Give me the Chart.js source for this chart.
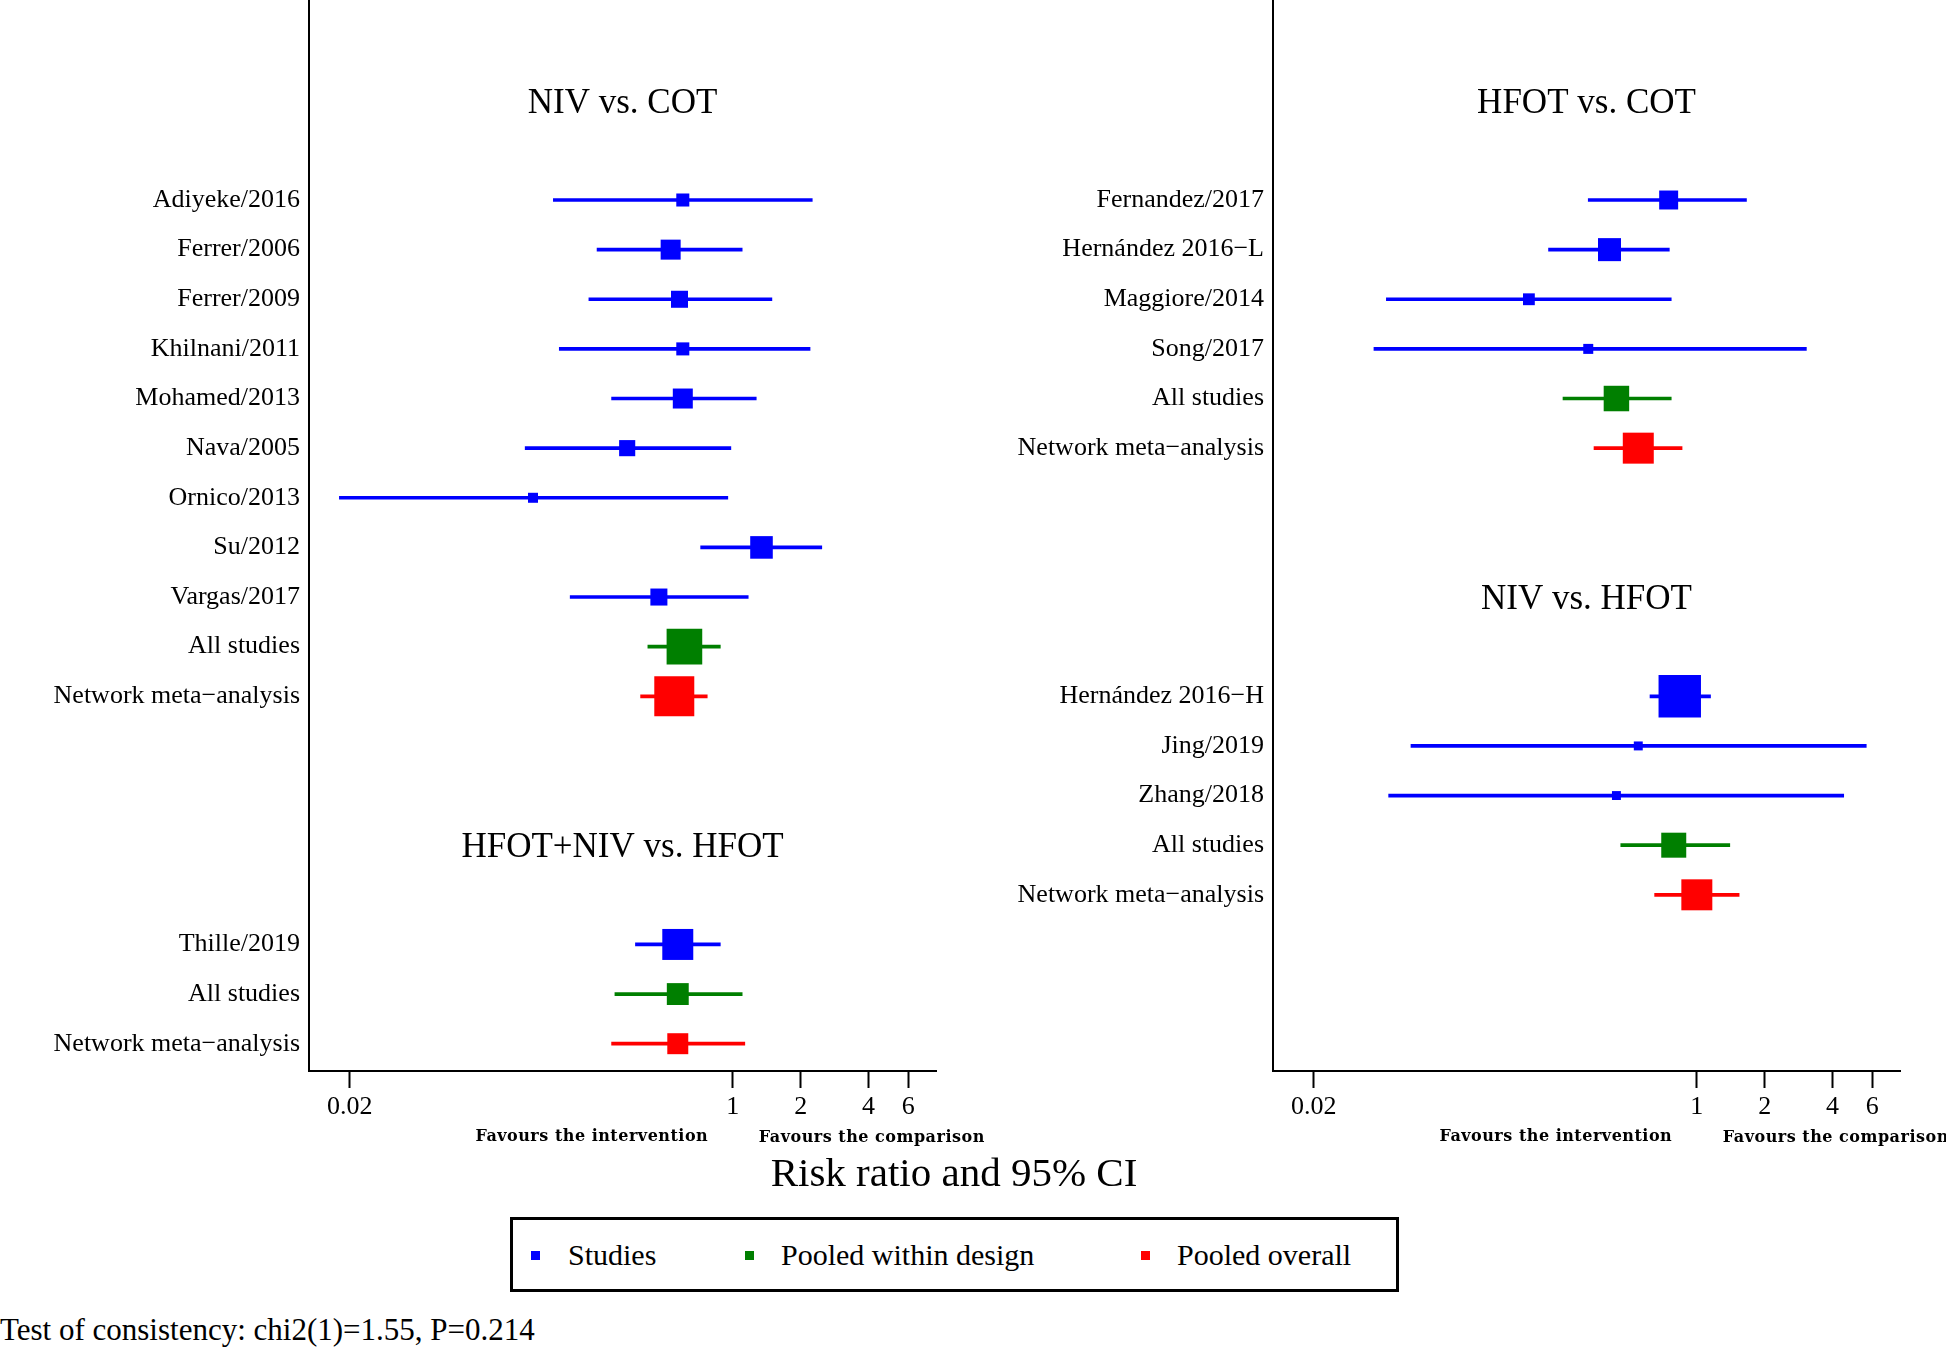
<!DOCTYPE html>
<html>
<head>
<meta charset="utf-8">
<script src="https://cdn.jsdelivr.net/npm/chart.js@4.4.0/dist/chart.umd.min.js"></script>
<style>
  body { margin: 0; background: #fff; width: 1946px; height: 1348px; position: relative; overflow: hidden; font-family: "Liberation Serif", "Times New Roman", serif; color: #000; }
  canvas { position: absolute; top: 0; }
  #leftChart { left: 0; }
  #rightChart { left: 964px; }
  #xTitle { position: absolute; left: 754px; width: 400px; top: 1150px; height: 44px; line-height: 44px; text-align: center; font-size: 41px; }
  #legend { position: absolute; left: 510px; top: 1217px; width: 889px; height: 75px; border: 3px solid #000; box-sizing: border-box; }
  .item { position: absolute; top: 0; height: 69px; line-height: 69px; font-size: 30px; white-space: nowrap; }
  .sw { position: absolute; width: 9px; height: 9px; top: 31px; }
  #note { position: absolute; left: 0; top: 1312px; font-size: 31px; line-height: 36px; white-space: nowrap; }
</style>
</head>
<body>
<canvas id="leftChart" width="1000" height="1160"></canvas>
<canvas id="rightChart" width="982" height="1160"></canvas>
<div id="xTitle">Risk ratio and 95% CI</div>
<div id="legend">
  <div class="sw" style="left:18px;background:#0000ff"></div><div class="item" style="left:55px">Studies</div>
  <div class="sw" style="left:232px;background:#007f00"></div><div class="item" style="left:268px">Pooled within design</div>
  <div class="sw" style="left:628px;background:#ff0000"></div><div class="item" style="left:664px">Pooled overall</div>
</div>
<div id="note">Test of consistency: chi2(1)=1.55, P=0.214</div>

<script>
// ---- data (risk ratio, 95% CI, box weight) ----
var nivCotStudies = ['Adiyeke/2016', 'Ferrer/2006', 'Ferrer/2009', 'Khilnani/2011', 'Mohamed/2013', 'Nava/2005', 'Ornico/2013', 'Su/2012', 'Vargas/2017', 'All studies', 'Network meta\u2212analysis'];
var nivCotRR     = [0.60, 0.53, 0.58, 0.60, 0.60, 0.34, 0.13, 1.34, 0.47, 0.61, 0.55];
var nivCotLow    = [0.16, 0.25, 0.23, 0.17, 0.29, 0.12, 0.018, 0.72, 0.19, 0.42, 0.39];
var nivCotHigh   = [2.25, 1.10, 1.49, 2.20, 1.27, 0.98, 0.95, 2.48, 1.17, 0.88, 0.77];
var nivCotWeight = [1.7, 4.0, 2.9, 1.7, 4.0, 2.6, 1.0, 5.1, 2.9, 12.7, 16.0];
var nivCotKind   = ['study', 'study', 'study', 'study', 'study', 'study', 'study', 'study', 'study', 'design', 'overall'];

var hfotNivStudies = ['Thille/2019', 'All studies', 'Network meta\u2212analysis'];
var hfotNivRR      = [0.57, 0.57, 0.57];
var hfotNivLow     = [0.37, 0.30, 0.29];
var hfotNivHigh    = [0.88, 1.10, 1.13];
var hfotNivWeight  = [9.6, 4.8, 4.4];
var hfotNivKind    = ['study', 'design', 'overall'];

var hfotCotStudies = ['Fernandez/2017', 'Hern\u00e1ndez 2016\u2212L', 'Maggiore/2014', 'Song/2017', 'All studies', 'Network meta\u2212analysis'];
var hfotCotRR      = [0.75, 0.41, 0.18, 0.33, 0.44, 0.55];
var hfotCotLow     = [0.33, 0.22, 0.042, 0.037, 0.255, 0.35];
var hfotCotHigh    = [1.66, 0.755, 0.77, 3.06, 0.77, 0.86];
var hfotCotWeight  = [3.6, 5.3, 1.4, 1.0, 6.5, 9.6];
var hfotCotKind    = ['study', 'study', 'study', 'study', 'design', 'overall'];

var nivHfotStudies = ['Hern\u00e1ndez 2016\u2212H', 'Jing/2019', 'Zhang/2018', 'All studies', 'Network meta\u2212analysis'];
var nivHfotRR      = [0.84, 0.55, 0.44, 0.79, 1.00];
var nivHfotLow     = [0.62, 0.054, 0.043, 0.46, 0.65];
var nivHfotHigh    = [1.15, 5.64, 4.48, 1.40, 1.54];
var nivHfotWeight  = [18.0, 0.8, 0.8, 6.25, 9.6];
var nivHfotKind    = ['study', 'study', 'study', 'design', 'overall'];

var xTicks = [0.02, 1, 2, 4, 6];

var kindColor = { study: '#0000ff', design: '#007f00', overall: '#ff0000' };
var serif = '"Liberation Serif", "Times New Roman", serif';

// a panel is a list of sections stacked down one row axis
function buildPanel(sections) {
  var rowLabels = {};
  var titles = [];
  var ci = { study: [], design: [], overall: [] };
  var pts = { study: [], design: [], overall: [] };
  var rad = { study: [], design: [], overall: [] };
  sections.forEach(function(sec) {
    titles.push({ text: sec.title, row: sec.first - 2 });
    sec.names.forEach(function(name, i) {
      var row = sec.first + i;
      var k = sec.kind[i];
      rowLabels[row] = name;
      ci[k].push({ x: [sec.low[i], sec.high[i]], y: row });
      pts[k].push({ x: sec.rr[i], y: row });
      // square side ~ 10*sqrt(weight); rect point side = radius*sqrt(2)
      rad[k].push(10 * Math.sqrt(sec.weight[i]) / Math.SQRT2);
    });
  });
  var datasets = [];
  ['study', 'design', 'overall'].forEach(function(k) {
    datasets.push({
      type: 'bar', indexAxis: 'y', data: ci[k], grouped: false,
      backgroundColor: kindColor[k], borderWidth: 0, barThickness: 3, order: 2
    });
    datasets.push({
      type: 'scatter', data: pts[k], pointStyle: 'rect', pointRadius: rad[k],
      pointBackgroundColor: kindColor[k], pointBorderWidth: 0, showLine: false, order: 1
    });
  });
  return { rowLabels: rowLabels, titles: titles, datasets: datasets };
}

var panelText = {
  id: 'panelText',
  afterDraw: function(chart) {
    var ctx = chart.ctx, xs = chart.scales.x, ys = chart.scales.y, area = chart.chartArea;
    var info = chart.options.plugins.panelText;
    ctx.save();
    ctx.fillStyle = '#000';
    ctx.textAlign = 'center';
    ctx.textBaseline = 'middle';
    ctx.font = '35px ' + serif;
    info.titles.forEach(function(t) {
      ctx.fillText(t.text, (area.left + area.right) / 2, ys.getPixelForValue(t.row) + 3);
    });
    ctx.font = 'bold 16px "DejaVu Serif", serif';
    ctx.letterSpacing = '0.5px';
    var one = xs.getPixelForValue(1);
    ctx.fillText('Favours the intervention', one - 141, 1137);
    ctx.fillText('Favours the comparison', one + 139, 1138);
    ctx.restore();
  }
};

function makeChart(id, sections, padRight) {
  var p = buildPanel(sections);
  return new Chart(document.getElementById(id), {
    type: 'scatter',
    data: { datasets: p.datasets },
    plugins: [panelText],
    options: {
      responsive: false,
      animation: false,
      events: [],
      layout: { autoPadding: false, padding: { left: 0, right: padRight, top: 0, bottom: 0 } },
      plugins: {
        legend: { display: false },
        tooltip: { enabled: false },
        panelText: { titles: p.titles }
      },
      scales: {
        x: {
          type: 'logarithmic', min: 0.0132, max: 7.96, beginAtZero: false, offset: false,
          afterBuildTicks: function(s) { s.ticks = xTicks.map(function(v) { return { value: v }; }); },
          afterFit: function(s) { s.height = 89; s.paddingLeft = 0; s.paddingRight = 0; },
          ticks: {
            autoSkip: false, maxRotation: 0, padding: 4, color: '#000',
            font: { family: serif, size: 26 },
            callback: function(v) { return String(v); }
          },
          grid: { drawOnChartArea: false, drawTicks: true, tickLength: 17, tickColor: '#000', tickWidth: 2, offset: false },
          border: { display: true, color: '#000', width: 2 }
        },
        y: {
          type: 'linear', reverse: true, min: -4.03, max: 17.55, offset: false,
          afterBuildTicks: function(s) {
            var t = [];
            for (var r = 0; r <= 17; r++) t.push({ value: r });
            s.ticks = t;
          },
          afterFit: function(s) { s.width = 309; s.paddingTop = 0; s.paddingBottom = 0; },
          ticks: {
            autoSkip: false, padding: 9, color: '#000',
            font: { family: serif, size: 26 },
            callback: function(v) { return p.rowLabels[Math.round(v)] || ''; }
          },
          grid: { drawOnChartArea: false, drawTicks: false, offset: false },
          border: { display: true, color: '#000', width: 2 }
        }
      }
    }
  });
}

makeChart('leftChart', [
  { title: 'NIV vs. COT', first: 0, names: nivCotStudies, rr: nivCotRR, low: nivCotLow, high: nivCotHigh, weight: nivCotWeight, kind: nivCotKind },
  { title: 'HFOT+NIV vs. HFOT', first: 15, names: hfotNivStudies, rr: hfotNivRR, low: hfotNivLow, high: hfotNivHigh, weight: hfotNivWeight, kind: hfotNivKind }
], 64);

makeChart('rightChart', [
  { title: 'HFOT vs. COT', first: 0, names: hfotCotStudies, rr: hfotCotRR, low: hfotCotLow, high: hfotCotHigh, weight: hfotCotWeight, kind: hfotCotKind },
  { title: 'NIV vs. HFOT', first: 10, names: nivHfotStudies, rr: nivHfotRR, low: nivHfotLow, high: nivHfotHigh, weight: nivHfotWeight, kind: nivHfotKind }
], 46);
</script>
</body>
</html>
